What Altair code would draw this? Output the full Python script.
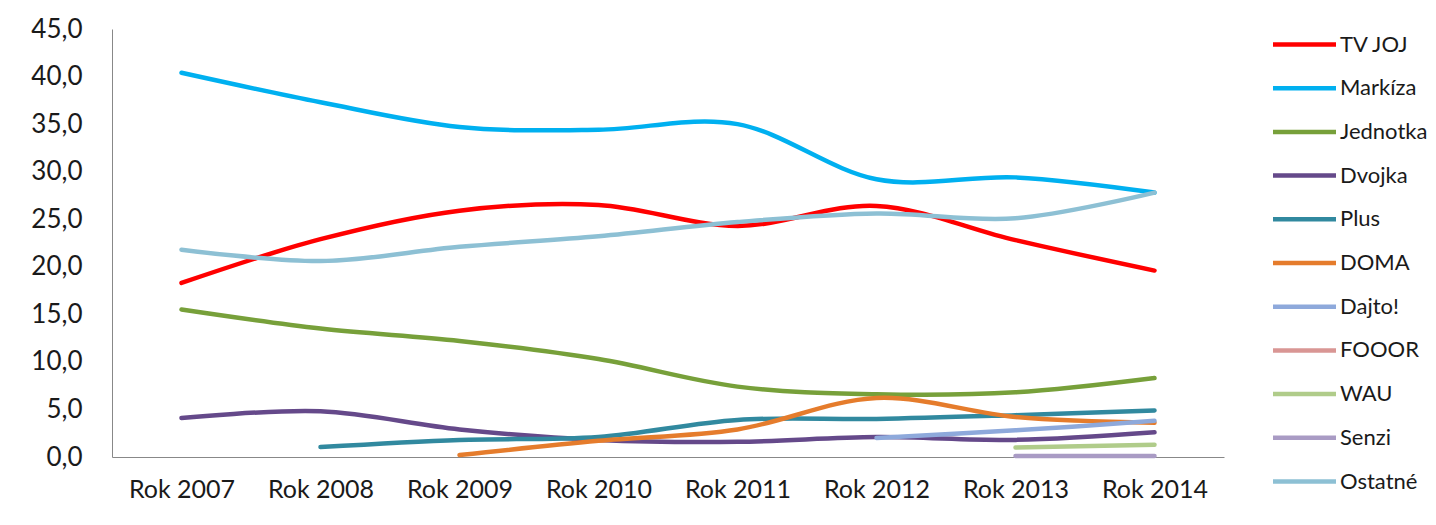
import altair as alt
import pandas as pd

years = ["Rok 2007", "Rok 2008", "Rok 2009", "Rok 2010", "Rok 2011", "Rok 2012", "Rok 2013", "Rok 2014"]
series = ["TV JOJ", "Markíza", "Jednotka", "Dvojka", "Plus", "DOMA", "Dajto!", "FOOOR", "WAU", "Senzi", "Ostatné"]
colors = ["#FF0000", "#00B0F0", "#77A03A", "#65498A", "#31899F", "#E57C2C", "#8EA9DB", "#D99694", "#B0CC8A", "#A99BC4", "#8DC0D4"]

tv_joj   = [18.3, 22.9, 25.9, 26.5, 24.3, 26.4, 22.8, 19.6]
markiza  = [40.4, 37.3, 34.7, 34.4, 35.0, 29.2, 29.4, 27.8]
jednotka = [15.5, 13.5, 12.2, 10.3, 7.4, 6.6, 6.8, 8.3]
dvojka   = [4.1, 4.8, 2.9, 1.8, 1.6, 2.1, 1.8, 2.6]
plus     = [None, 1.05, 1.8, 2.1, 3.9, 4.0, 4.4, 4.9]
doma     = [None, None, 0.2, 1.7, 2.9, 6.2, 4.2, 3.6]
dajto    = [None, None, None, None, None, 2.0, 2.8, 3.8]
fooor    = [None, None, None, None, None, None, None, None]
wau      = [None, None, None, None, None, None, 1.0, 1.3]
senzi    = [None, None, None, None, None, None, 0.1, 0.1]
ostatne  = [21.8, 20.6, 22.1, 23.2, 24.7, 25.6, 25.1, 27.8]

values = [tv_joj, markiza, jednotka, dvojka, plus, doma, dajto, fooor, wau, senzi, ostatne]
y_ticks = [0, 5, 10, 15, 20, 25, 30, 35, 40, 45]

rows = []
for name, vals in zip(series, values):
    for yr, v in zip(years, vals):
        if v is not None:
            rows.append({"rok": yr, "seria": name, "hodnota": v, "poradie": series.index(name)})
df = pd.DataFrame(rows)

FONT = "Lato"

chart = alt.Chart(df).mark_line(
    interpolate="cardinal", strokeWidth=4.5, strokeCap="round"
).encode(
    x=alt.X("rok:O", sort=years, title=None,
            scale=alt.Scale(padding=0.5),
            axis=alt.Axis(labelAngle=0, labelFontSize=25, labelFont=FONT, labelColor="#1a1a1a",
                          labelPadding=20, ticks=False, domainColor="#888888", domainWidth=1)),
    y=alt.Y("hodnota:Q", title=None,
            scale=alt.Scale(domain=[0, 45], nice=False),
            axis=alt.Axis(values=y_ticks, grid=False, ticks=False, labelFontSize=26, labelFont=FONT,
                          labelColor="#1a1a1a", labelPadding=30, domainColor="#888888", domainWidth=1,
                          labelExpr="replace(format(datum.value, '.1f'), '.', ',')")),
    color=alt.Color("seria:N", sort=series,
                    scale=alt.Scale(domain=series, range=colors),
                    legend=alt.Legend(title=None, orient="none", legendX=1169, legendY=-8,
                                      symbolType="M-1.5,0L1.5,0", symbolSize=1764,
                                      symbolStrokeWidth=4.5, labelOffset=12,
                                      labelFont=FONT, labelFontSize=22, labelColor="#1a1a1a",
                                      rowPadding=8.7, labelLimit=200)),
    detail="seria:N",
    order=alt.Order("poradie:Q"),
).properties(
    width=1112, height=428, background="white",
    padding={"left": 22, "top": 8, "right": 0, "bottom": 5},
).configure_view(strokeWidth=0)

chart.save("out.html", embed_options={"renderer": "svg", "actions": False})
